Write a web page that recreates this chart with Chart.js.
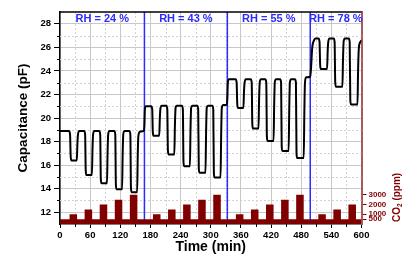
<!DOCTYPE html>
<html>
<head>
<meta charset="utf-8">
<script src="https://cdn.jsdelivr.net/npm/chart.js@4"></script>
<style>
  html, body { margin: 0; padding: 0; background: #fff; }
</style>
</head>
<body>
<canvas id="chart" width="413" height="255"></canvas>
<script>
/* ---- data ---- */

// capacitance (pF) vs time (min), one list of [t, C] per humidity step
const rh24 = [
  [0, 18.9],
  [18, 18.9], [20, 18.6], [21.2, 16.8], [22.5, 16.4], [33.5, 16.4], [34.7, 17.9], [36, 18.65], [38.5, 18.9],
  [48, 18.9], [50, 18.6], [51.2, 15.55], [52.5, 15.15], [63.5, 15.15], [64.7, 17.4], [66, 18.65], [68.5, 18.9],
  [78, 18.9], [80, 18.6], [81.2, 14.85], [82.5, 14.45], [93.5, 14.45], [94.7, 17.1], [96, 18.65], [98.5, 18.9],
  [108, 18.9], [110, 18.6], [111.2, 14.35], [112.5, 13.95], [123.5, 13.95], [124.7, 16.9], [126, 18.65], [128.5, 18.9],
  [138, 18.9], [140, 18.6], [141.2, 14.1], [142.5, 13.7], [153.5, 13.7], [154.7, 16.8], [156, 18.5], [160, 18.85],
  [167, 18.9], [168, 19.5], [169, 20.8], [171, 21.0]
];
const rh43 = [
  [181.5, 21.0], [183.5, 20.75], [184.7, 18.8], [186, 18.5], [197.5, 18.5], [198.7, 20.0], [200, 20.85], [202.5, 21.05],
  [211.5, 21.05], [213.5, 20.75], [214.7, 17.3], [216, 16.9], [227.5, 16.9], [228.7, 19.4], [230, 20.85], [232.5, 21.05],
  [242.5, 21.05], [244.5, 20.75], [245.7, 16.3], [247, 15.9], [258.5, 15.9], [259.7, 19.0], [261, 20.85], [263.5, 21.05],
  [273, 21.05], [275, 20.75], [276.2, 15.75], [277.5, 15.35], [289.5, 15.35], [290.7, 18.7], [292, 20.85], [294.5, 21.05],
  [303, 21.05], [305, 20.75], [306.2, 15.35], [307.5, 14.95], [319.5, 14.95], [320.7, 18.5], [322, 20.85], [325, 21.1],
  [332, 21.1], [333, 21.7], [334, 23.0], [336, 23.3]
];
const rh55 = [
  [349.5, 23.3], [351.5, 23.0], [352.7, 21.25], [354, 20.85], [365, 20.85], [366.2, 22.3], [367.5, 23.05], [370, 23.3],
  [379.5, 23.3], [381.5, 23.0], [382.7, 19.5], [384, 19.1], [395, 19.1], [396.2, 21.6], [397.5, 23.05], [400, 23.3],
  [408.5, 23.3], [410.5, 23.0], [411.7, 18.45], [413, 18.05], [425, 18.05], [426.2, 21.1], [427.5, 23.05], [430, 23.3],
  [438, 23.3], [440, 23.0], [441.2, 17.6], [442.5, 17.2], [455, 17.2], [456.2, 20.7], [457.5, 23.05], [460, 23.3],
  [467.5, 23.3], [469.5, 23.0], [470.7, 17.0], [472, 16.6], [485, 16.6], [486.2, 20.3], [487.5, 23.0], [490, 23.45],
  [498, 23.5], [499.5, 24.2], [502, 26.0], [505, 26.55], [508, 26.75]
];
const rh78 = [
  [514.5, 26.75], [516.5, 26.45], [517.7, 24.55], [519, 24.15], [531.5, 24.15], [532.7, 25.7], [534, 26.5], [536.5, 26.75],
  [544.5, 26.75], [546.5, 26.45], [547.7, 23.05], [549, 22.65], [562, 22.65], [563.2, 25.0], [564.5, 26.5], [567, 26.75],
  [574.5, 26.75], [576.5, 26.45], [577.7, 21.55], [579, 21.15], [592, 21.15], [593.2, 24.0], [594.5, 25.8], [597, 26.4], [600, 26.6]
];

// CO2 steps (ppm), value holds from each time onwards
const co2Time = [0, 19, 34, 49, 64, 79, 94, 109, 124, 139, 154,
  185, 200, 215, 230, 245, 260, 275, 290, 305, 320,
  350, 365, 380, 395, 410, 425, 440, 455, 470, 485,
  514, 529, 544, 559, 574, 589, 600];
const co2Ppm = [500, 1000, 500, 1500, 500, 2000, 500, 2500, 500, 3000, 500,
  1000, 500, 1500, 500, 2000, 500, 2500, 500, 3000, 500,
  1000, 500, 1500, 500, 2000, 500, 2500, 500, 3000, 500,
  1000, 500, 1500, 500, 2000, 500, 500];

// humidity steps
const rhBounds = [0, 168, 333, 498, 600];
const rhLabels = ["RH = 24 %", "RH = 43 %", "RH = 55 %", "RH = 78 %"];

// ticks
const capTicks = [12, 14, 16, 18, 20, 22, 24, 26, 28];
const capMinor = [13, 15, 17, 19, 21, 23, 25, 27];
const timeMinor = [30, 90, 150, 210, 270, 330, 390, 450, 510, 570];
const co2Ticks = [500, 1000, 2000, 3000];

Chart.defaults.font.family = "'Liberation Sans', Arial, sans-serif";
Chart.defaults.color = "#000";

const RED = "#800000";
const BLUE = "#2b2bff";

const capPoints = [...rh24, ...rh43, ...rh55, ...rh78].map(p => ({ x: p[0], y: p[1] }));
const co2Points = co2Time.map((t, i) => ({ x: t, y: co2Ppm[i] }));

/* grid minor lines, RH dividers, labels, borders */
const extras = {
  id: "extras",
  beforeDatasetsDraw(chart) {
    const { ctx, chartArea: a, scales: { x, y } } = chart;
    ctx.save();
    ctx.lineWidth = 1;
    ctx.strokeStyle = "#d2d2d2";
    ctx.setLineDash([2, 2]);
    timeMinor.forEach(t => {
      const px = Math.round(x.getPixelForValue(t)) + 0.5;
      ctx.beginPath(); ctx.moveTo(px, a.top); ctx.lineTo(px, a.bottom); ctx.stroke();
    });
    capMinor.forEach(v => {
      const py = Math.round(y.getPixelForValue(v)) + 0.5;
      ctx.beginPath(); ctx.moveTo(a.left, py); ctx.lineTo(a.right, py); ctx.stroke();
    });
    ctx.setLineDash([]);

    // humidity change lines
    ctx.strokeStyle = BLUE;
    ctx.lineWidth = 1.5;
    rhBounds.slice(1, -1).forEach(t => {
      const px = x.getPixelForValue(t);
      ctx.beginPath(); ctx.moveTo(px, a.top); ctx.lineTo(px, a.bottom); ctx.stroke();
    });
    ctx.restore();
  },
  afterDraw(chart) {
    const { ctx, chartArea: a, scales: { x, y } } = chart;
    ctx.save();

    // RH labels
    ctx.fillStyle = BLUE;
    ctx.font = "bold 11px 'Liberation Sans', Arial, sans-serif";
    ctx.textAlign = "center";
    ctx.textBaseline = "middle";
    rhLabels.forEach((txt, i) => {
      const mid = (rhBounds[i] + rhBounds[i + 1]) / 2;
      ctx.fillText(txt, x.getPixelForValue(mid), a.top + 7);
    });

    // top frame
    ctx.strokeStyle = "#000";
    ctx.lineWidth = 1.5;
    ctx.beginPath(); ctx.moveTo(a.left, a.top); ctx.lineTo(a.right, a.top); ctx.stroke();

    // minor ticks
    ctx.lineWidth = 1;
    capMinor.forEach(v => {
      const py = Math.round(y.getPixelForValue(v)) + 0.5;
      ctx.beginPath(); ctx.moveTo(a.left - 3, py); ctx.lineTo(a.left, py); ctx.stroke();
    });
    timeMinor.forEach(t => {
      const px = Math.round(x.getPixelForValue(t)) + 0.5;
      ctx.beginPath(); ctx.moveTo(px, a.bottom); ctx.lineTo(px, a.bottom + 3); ctx.stroke();
    });

    // right axis title, reads bottom to top
    ctx.translate(397, 222);
    ctx.rotate(-Math.PI / 2);
    ctx.fillStyle = RED;
    ctx.textAlign = "left";
    ctx.textBaseline = "middle";
    ctx.font = "bold 10px 'Liberation Sans', Arial, sans-serif";
    ctx.fillText("CO", 0, 0);
    let w = ctx.measureText("CO").width;
    ctx.font = "bold 6.5px 'Liberation Sans', Arial, sans-serif";
    ctx.fillText("2", w, 3);
    w += ctx.measureText("2").width;
    ctx.font = "bold 10px 'Liberation Sans', Arial, sans-serif";
    ctx.fillText(" (ppm)", w, 0);
    ctx.restore();
  }
};

new Chart(document.getElementById("chart"), {
  type: "line",
  data: {
    datasets: [
      {
        label: "Capacitance",
        data: capPoints,
        yAxisID: "y",
        borderColor: "#000",
        borderWidth: 2,
        pointRadius: 0,
        cubicInterpolationMode: "monotone",
        fill: false,
        order: 0
      },
      {
        label: "CO2",
        data: co2Points,
        yAxisID: "y2",
        stepped: "before",
        borderWidth: 0,
        borderColor: RED,
        backgroundColor: RED,
        pointRadius: 0,
        fill: "origin",
        order: 1
      }
    ]
  },
  options: {
    responsive: false,
    animation: false,
    layout: { padding: { top: 12, left: 0, right: 0, bottom: 0 } },
    plugins: { legend: { display: false }, tooltip: { enabled: false } },
    scales: {
      x: {
        type: "linear",
        min: 0,
        max: 600,
        ticks: { stepSize: 60, font: { size: 9.5, weight: "bold" }, padding: 2, maxRotation: 0 },
        grid: { color: "#c8c8c8", tickColor: "#000", tickLength: 4 },
        border: { color: "#000", width: 1.5 },
        title: { display: true, text: "Time (min)", font: { size: 14, weight: "bold" }, padding: { top: 0, bottom: -1 } },
        afterFit: s => { s.height = 31; }
      },
      y: {
        position: "left",
        min: 11,
        max: 29,
        afterBuildTicks: s => { s.ticks = capTicks.map(v => ({ value: v })); },
        ticks: { font: { size: 9.5, weight: "bold" }, padding: 3, autoSkip: false },
        grid: { color: "#c8c8c8", tickColor: "#000", tickLength: 6 },
        border: { color: "#000", width: 1.5 },
        title: { display: true, text: "Capacitance (pF)", font: { size: 13.5, weight: "bold" }, padding: { top: 15, bottom: 0 } },
        afterFit: s => { s.width = 60; }
      },
      y2: {
        position: "right",
        min: 0,
        max: 21800,
        afterBuildTicks: s => { s.ticks = co2Ticks.map(v => ({ value: v })); },
        ticks: {
          font: { size: 8, weight: "bold" },
          color: RED,
          padding: 2,
          autoSkip: false,
          callback: v => String(v)
        },
        grid: { drawOnChartArea: false, tickColor: RED, tickLength: 5 },
        border: { color: "#a85a5a", width: 2 },
        afterFit: s => { s.width = 51.5; }
      }
    }
  },
  plugins: [extras]
});
</script>
</body>
</html>
